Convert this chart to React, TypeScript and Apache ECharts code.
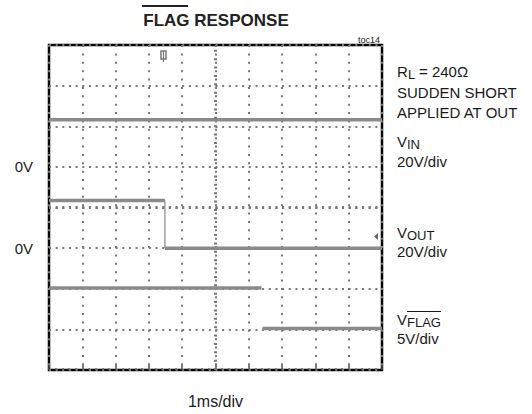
import React, { useEffect, useRef } from "react";
import * as echarts from "echarts";

// Time in ms (1 ms/div, 10 divisions)
const VIN_T = [0, 10];
const VIN_V = [23.2, 23.2];
const VOUT_T = [0, 3.48, 3.48, 3.48, 10];
const VOUT_V: (number | null)[] = [23.4, 23.4, null, 0, 0];
const VFLAG_T = [0, 6.38, 6.39, 6.41, 10];
const VFLAG_V: (number | null)[] = [5.1, 5.1, null, 0.1, 0.1];

const X_TICKS = [0, 10, 1]; // min, max, interval (ms)
const RIGHT_NOTES = ["SUDDEN SHORT", "APPLIED AT OUT"];
const SCALE_LABELS = ["20V/div", "20V/div", "5V/div"];

const FONT = '"Liberation Sans", Arial, Helvetica, sans-serif';

const pairs = (t: number[], v: (number | null)[]) =>
  t.map((x, i) => [x, v[i] === null ? "-" : v[i]]);

const txt = (
  text: string,
  x: number,
  y: number,
  size: number,
  extra: any = {}
) => ({
  type: "text",
  x,
  y,
  silent: true,
  style: {
    text,
    font: `${extra.bold ? "bold " : ""}${size}px ${FONT}`,
    fill: extra.fill || "#1a1a1a",
    align: extra.align || "left",
    textAlign: extra.align || "left",
    verticalAlign: "middle",
    textVerticalAlign: "middle",
  },
});

export default function App() {
  const ref = useRef<HTMLDivElement>(null);
  useEffect(() => {
    if (!ref.current) return;
    const chart = echarts.init(ref.current, null, { renderer: "svg" });
    const traceStyle = { color: "#8a8a8a", width: 3.5 };
    const zeroLabel = (v: number) => (v === 0 ? "0V" : "");
    // falling edge of VOUT drawn thin, from the same data
    const voutEdge = [
      [VOUT_T[1], VOUT_V[1]],
      [VOUT_T[3], VOUT_V[3]],
    ];
    chart.setOption({
      animation: false,
      grid: {
        left: 49,
        top: 45,
        width: 333,
        height: 335,
        show: true,
        borderColor: "#000",
        borderWidth: 2.5,
        backgroundColor: "transparent",
      },
      xAxis: {
        type: "value",
        min: X_TICKS[0],
        max: X_TICKS[1],
        interval: X_TICKS[2],
        name: "1ms/div",
        nameLocation: "middle",
        nameGap: 23,
        nameTextStyle: { fontSize: 16, color: "#1a1a1a", fontFamily: FONT },
        axisLine: { show: false },
        axisLabel: { show: false },
        axisTick: { show: true, inside: true, length: 5, lineStyle: { color: "#555", width: 1.5 } },
        minorTick: { show: true, splitNumber: 5, length: 2, lineStyle: { color: "#666", width: 1.5 } },
        splitLine: {
          show: true,
          lineStyle: { color: "#777", width: 2, type: [2, 6.375] },
        },
      },
      yAxis: [
        {
          type: "value",
          min: 0,
          max: 8,
          interval: 1,
          axisLine: { show: false },
          axisTick: { show: false },
          axisLabel: { show: false },
          splitLine: {
            show: true,
            lineStyle: { color: "#777", width: 2, type: [2, 4.66] },
          },
        },
        {
          type: "value",
          min: -100,
          max: 60,
          interval: 20,
          position: "left",
          axisLine: { show: false },
          axisTick: { show: false },
          splitLine: { show: false },
          axisLabel: { formatter: zeroLabel, margin: 16, fontSize: 15, color: "#1a1a1a", fontFamily: FONT },
        },
        {
          type: "value",
          min: -60,
          max: 100,
          interval: 20,
          position: "left",
          axisLine: { show: false },
          axisTick: { show: false },
          splitLine: { show: false },
          axisLabel: { formatter: zeroLabel, margin: 16, fontSize: 15, color: "#1a1a1a", fontFamily: FONT },
        },
        {
          type: "value",
          min: -5,
          max: 35,
          interval: 5,
          show: false,
          splitLine: { show: false },
        },
      ],
      series: [
        {
          type: "line",
          yAxisIndex: 0,
          data: [],
          silent: true,
          markLine: {
            silent: true,
            symbol: ["none", "none"],
            label: { show: false },
            data: [
              { xAxis: 5, lineStyle: { color: "#777", width: 3, type: [2, 6.375] } },
              { yAxis: 4, lineStyle: { color: "#777", width: 3, type: [2, 4.66] } },
            ],
          },
        },
        {
          name: "VIN",
          type: "line",
          yAxisIndex: 1,
          data: pairs(VIN_T, VIN_V),
          showSymbol: false,
          lineStyle: traceStyle,
        },
        {
          name: "VOUT edge",
          type: "line",
          yAxisIndex: 2,
          data: voutEdge,
          showSymbol: false,
          lineStyle: { color: "#a0a0a0", width: 1.5 },
        },
        {
          name: "VOUT",
          type: "line",
          yAxisIndex: 2,
          data: pairs(VOUT_T, VOUT_V),
          showSymbol: false,
          connectNulls: false,
          lineStyle: traceStyle,
        },
        {
          name: "VFLAG",
          type: "line",
          yAxisIndex: 3,
          data: pairs(VFLAG_T, VFLAG_V),
          showSymbol: false,
          connectNulls: false,
          lineStyle: traceStyle,
        },
      ],
      graphic: [
        txt("FLAG RESPONSE", 216, 20, 17, { bold: true, align: "center", fill: "#222" }),
        { type: "line", silent: true, shape: { x1: 142, y1: 6, x2: 188, y2: 6 }, style: { stroke: "#222", lineWidth: 2 } },
        txt("toc14", 380, 40, 9, { align: "right" }),
        txt("R", 397, 71, 15),
        txt("L", 408, 74, 13),
        txt("= 240Ω", 419, 71, 15),
        txt(RIGHT_NOTES[0], 397, 92, 15),
        txt(RIGHT_NOTES[1], 397, 112, 15),
        txt("V", 397, 141, 15),
        txt("IN", 407, 144, 13),
        txt(SCALE_LABELS[0], 397, 161, 15),
        txt("V", 397, 232, 15),
        txt("OUT", 407, 235, 13),
        txt(SCALE_LABELS[1], 397, 251, 15),
        txt("V", 397, 319, 15),
        txt("FLAG", 407, 322, 13),
        { type: "line", silent: true, shape: { x1: 407, y1: 311.5, x2: 441, y2: 311.5 }, style: { stroke: "#1a1a1a", lineWidth: 1.2 } },
        txt(SCALE_LABELS[2], 397, 338, 15),
        // trigger markers
        { type: "rect", silent: true, shape: { x: 161, y: 51, width: 5, height: 8 }, style: { fill: "none", stroke: "#777", lineWidth: 1.5 } },
        { type: "line", silent: true, shape: { x1: 163.5, y1: 51, x2: 163.5, y2: 62 }, style: { stroke: "#777", lineWidth: 1.2 } },
        { type: "polygon", silent: true, shape: { points: [[378, 233], [374, 236.5], [378, 240]] }, style: { fill: "#666" } },
      ],
    });
    return () => chart.dispose();
  }, []);
  return (
    <div
      ref={ref}
      style={{ position: "absolute", left: 0, top: 0, width: 532, height: 414 }}
    />
  );
}
